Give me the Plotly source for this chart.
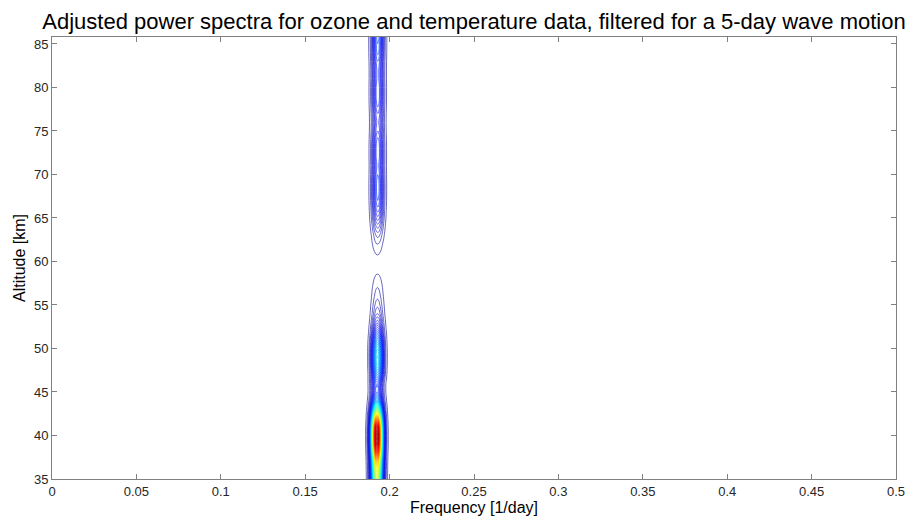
import numpy as np
import plotly.graph_objects as go

# ---- data ----
altitudes = list(range(35, 88))  # km
amplitude = [0.57, 0.62, 0.7, 0.85, 0.97, 1.0, 0.95, 0.75, 0.5, 0.28,
             0.17, 0.18, 0.25, 0.31, 0.33, 0.31, 0.25, 0.17, 0.11, 0.07,
             0.05, 0.035, 0.025, 0.015, 0.006, 0.004, 0.012, 0.025, 0.045, 0.075,
             0.11, 0.14, 0.16, 0.17, 0.17, 0.16, 0.15, 0.16, 0.16, 0.15,
             0.13, 0.12, 0.13, 0.15, 0.16, 0.16, 0.15, 0.15, 0.16, 0.18,
             0.19, 0.2, 0.2]
peak_freq = [0.1925] * 12 + [0.1928] * 16 + [0.1930] * 25  # 1/day, per altitude
peak_width = [0.0022] * 53  # spectral half-width (1/day)

freqs = np.round(np.arange(0.178, 0.2075, 0.0005), 5)

x_ticks = [0, 0.05, 0.1, 0.15, 0.2, 0.25, 0.3, 0.35, 0.4, 0.45, 0.5]
x_tick_labels = ["0", "0.05", "0.1", "0.15", "0.2", "0.25", "0.3", "0.35", "0.4", "0.45", "0.5"]
y_ticks = [35, 40, 45, 50, 55, 60, 65, 70, 75, 80, 85]

# spectral field built from the per-altitude peak values
A = np.array(amplitude)[:, None]
C = np.array(peak_freq)[:, None]
W = np.array(peak_width)[:, None]
Z = A * np.exp(-((freqs[None, :] - C) ** 2) / (2 * W ** 2))

jet = [[0.0, "rgb(0,0,143)"], [0.11, "rgb(0,0,255)"], [0.36, "rgb(0,255,255)"],
       [0.61, "rgb(255,255,0)"], [0.86, "rgb(255,0,0)"], [1.0, "rgb(128,0,0)"]]

fig = go.Figure(go.Contour(
    x=freqs, y=altitudes, z=Z,
    colorscale=jet, zmin=0, zmax=1,
    contours=dict(start=0.01, end=1.0, size=0.015, coloring="lines"),
    line=dict(width=0.6, smoothing=1),
    showscale=False, hoverinfo="skip",
))

font_family = "Liberation Sans, Arial"
axis_common = dict(showline=True, linecolor="#808080", linewidth=1, mirror="ticks",
                   ticks="inside", ticklen=5, tickcolor="#808080", showgrid=False,
                   zeroline=False, tickfont=dict(family=font_family, size=13, color="#262626"))

fig.update_layout(
    width=917, height=523,
    margin=dict(l=52, r=21, t=37, b=44),
    paper_bgcolor="white", plot_bgcolor="white",
    title=dict(text="Adjusted power spectra for ozone and temperature data, filtered for a 5-day wave motion",
               x=(52 + 896) / 2 / 917, xanchor="center", y=1 - 21 / 523, yanchor="middle",
               font=dict(family=font_family, size=22, color="black")),
    xaxis=dict(range=[0, 0.5], tickvals=x_ticks, ticktext=x_tick_labels,
               title=dict(text="Frequency [1/day]", standoff=1,
                          font=dict(family=font_family, size=16, color="black")),
               **axis_common),
    yaxis=dict(range=[35, 85.8], tickvals=y_ticks,
               title=dict(text="Altitude [km]", standoff=4,
                          font=dict(family=font_family, size=16, color="black")),
               **axis_common),
)

fig.write_html("out.html")
